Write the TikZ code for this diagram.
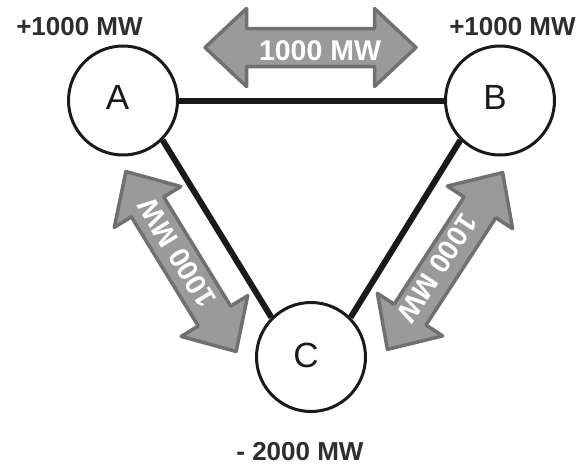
\documentclass[tikz,border=0pt]{standalone}
\usepackage{fontspec}
\setmainfont{Liberation Sans}
\definecolor{lbl}{HTML}{2E2E2E}
\definecolor{arrfill}{HTML}{9A9A9A}
\definecolor{arrdraw}{HTML}{707070}
\definecolor{ink}{HTML}{1A1A1A}
\tikzset{
  bus/.style={circle, draw=ink, line width=3pt, fill=white, minimum size=109pt, inner sep=0pt},
  letter/.style={text=ink, inner sep=0pt, font=\fontsize{35}{40}\selectfont},
  mwlabel/.style={text=lbl, inner sep=0pt, font=\bfseries\fontsize{26}{30}\selectfont},
  arrtext/.style={text=white, inner sep=0pt, font=\bfseries\fontsize{28.5}{32}\selectfont},
  line/.style={draw=ink, line width=6pt},
  arrbody/.style={fill=arrfill, draw=arrdraw, line width=3.5pt, line join=round},
  dblarrow/.pic={
    \path[arrbody] (-105.5,0) -- (-64,-39) -- (-64,-19) -- (64,-19) -- (64,-39)
      -- (105.5,0) -- (64,39) -- (64,19) -- (-64,19) -- (-64,39) -- cycle;
  }
}
\begin{document}
\begin{tikzpicture}[x=1pt, y=-1pt]
\useasboundingbox (0,0) rectangle (582,466);
% arrows
\pic at (310.5,47.5) {dblarrow};
\pic[rotate=121.5] at (181,261.5) {dblarrow};
\pic[rotate=-123.1] at (445,261) {dblarrow};
\node[arrtext] (tAB) at (320,51) {1000 MW};
\node[arrtext, rotate=121.5] (tAC) at (177,253) {1000 MW};
\node[arrtext, rotate=-123.1] (tBC) at (437,268) {1000 MW};
% buses
\node[bus] (A) at (123,100.5) {};
\node[bus] (B) at (500,100.5) {};
\node[bus] (C) at (311,357) {};
\draw[line] (A.east) -- (B.west);
\draw[line] (A.-45) -- (C.135);
\draw[line] (B.-135) -- (C.45);
\node[letter] (LA) at (117.5,97.5) {A};
\node[letter] (LB) at (495,97.5) {B};
\node[letter] (LC) at (306,355.5) {C};
% power labels
\node[mwlabel] (PA) at (79.5,27) {+1000 MW};
\node[mwlabel] (PB) at (512.5,27) {+1000 MW};
\node[mwlabel] (PC) at (300,452) {- 2000 MW};
\end{tikzpicture}
\end{document}
